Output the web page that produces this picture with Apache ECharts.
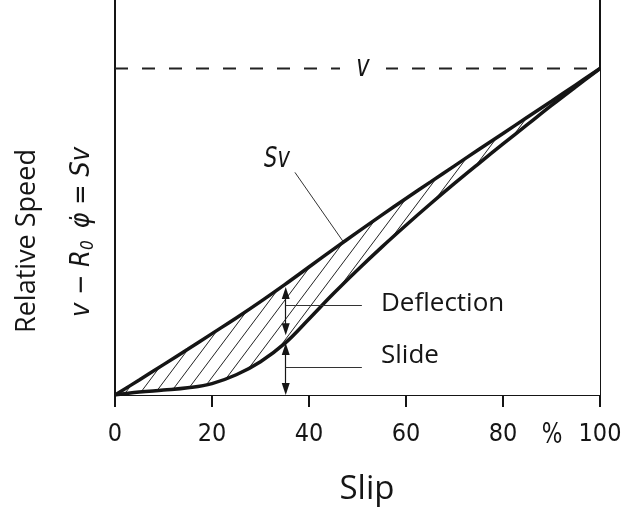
<!DOCTYPE html>
<html>
<head>
<meta charset="utf-8">
<script src="https://cdn.jsdelivr.net/npm/echarts@6/dist/echarts.min.js"></script>
<style>
html, body { margin: 0; padding: 0; background: #fff; }
#chart { width: 627px; height: 509px; }
</style>
</head>
<body>
<div id="chart"></div>
<script>
// slip in %, relative speed in % of v
const slip = [0, 5, 10, 15, 20, 25, 30, 35, 40, 45, 50, 55, 60, 65, 70, 75, 80, 85, 90, 95, 100]
const upperSpeed = [0, 4.6, 9.3, 14, 18.8, 23.6, 28.6, 33.8, 39.2, 44.6, 49.9, 55.1, 60.2, 65.2, 70.2, 75.2, 80.1, 85.1, 90, 95, 100]
const lowerSpeed = [0, 0.9, 1.5, 2.2, 3.5, 6.2, 10.2, 15.8, 23.3, 31.0, 38.3, 45.3, 52.0, 58.5, 64.8, 70.9, 76.9, 82.8, 88.7, 94.4, 100]
const xTicks = [0, 20, 40, 60, 80, 100]
const vLevel = 100
const yMax = 121

// annotations (data coords)
const arrowX = 35.2
const deflectionArrow = [33.1, 18.3]
const slideArrow = [15.9, 0]
const leaderEndX = 50.9
const deflectionLeaderY = 27.5
const slideLeaderY = 8.35
const svLeader = [[37.1, 68.2], [47.0, 47.1]]

const narrow = "'DejaVu Sans Condensed', 'Liberation Sans', sans-serif"
const sans = "'Open Sans', 'Noto Sans', sans-serif"
const ink = '#151515'

function hatch() {
  let c = document.createElement('canvas')
  c.width = 15
  c.height = 20
  let g = c.getContext('2d')
  g.strokeStyle = '#222'
  g.lineWidth = 1
  g.beginPath()
  g.moveTo(0, 20); g.lineTo(15, 0)
  g.moveTo(-15, 20); g.lineTo(0, 0)
  g.moveTo(15, 20); g.lineTo(30, 0)
  g.stroke()
  return c
}

let chart = echarts.init(document.getElementById('chart'))
const gridBottom = 114
const plotH = 509 - gridBottom
const arrowLen = 12
const inset = arrowLen / 2 * yMax / plotH

const arrowStyle = { color: ink, width: 1.2, type: 'solid' }
const thin = { color: '#333', width: 1, type: 'solid' }
const upperData = slip.map((x, i) => [x, upperSpeed[i]])
const lowerData = slip.map((x, i) => [x, lowerSpeed[i]])
const smooth = 0.4

chart.setOption({
  animation: false,
  backgroundColor: '#fff',
  grid: { left: 115, right: 27, top: 0, bottom: gridBottom, outerBoundsMode: 'none', containLabel: false },
  xAxis: {
    type: 'value', min: 0, max: 100, interval: 20,
    axisLine: { show: true, onZero: false, lineStyle: { color: ink, width: 2 } },
    axisTick: { show: true, length: 12, lineStyle: { color: ink, width: 2 } },
    axisLabel: {
      margin: 27, fontFamily: narrow, fontSize: 25, color: ink,
      formatter: v => xTicks.includes(v) ? String(v) : ''
    },
    splitLine: { show: false }
  },
  yAxis: [{
    type: 'value', min: 0, max: yMax, position: 'left',
    axisLine: { show: true, onZero: false, lineStyle: { color: ink, width: 2 } },
    axisTick: { show: false }, axisLabel: { show: false }, splitLine: { show: false }
  }, {
    type: 'value', min: 0, max: yMax, position: 'right',
    axisLine: { show: true, onZero: false, lineStyle: { color: ink, width: 2 } },
    axisTick: { show: false }, axisLabel: { show: false }, splitLine: { show: false }
  }],
  series: [{
    // hatched fill under the Sv line
    name: 'hatch', type: 'line', smooth, showSymbol: false, silent: true, z: 1,
    data: upperData,
    lineStyle: { width: 0, opacity: 0 },
    areaStyle: { color: { image: hatch(), repeat: 'repeat' }, opacity: 1 }
  }, {
    // white fill under the slide curve masks the hatch below it
    name: 'mask', type: 'line', smooth, showSymbol: false, silent: true, z: 2,
    data: lowerData,
    lineStyle: { width: 0, opacity: 0 },
    areaStyle: { color: '#fff', opacity: 1 }
  }, {
    name: 'Sv', type: 'line', smooth, showSymbol: false, silent: true, z: 4,
    data: upperData,
    lineStyle: { color: ink, width: 3.5 }
  }, {
    name: 'lower', type: 'line', smooth, showSymbol: false, silent: true, z: 4,
    data: lowerData,
    lineStyle: { color: ink, width: 3.5 }
  }, {
    name: 'v', type: 'line', showSymbol: false, silent: true, z: 3,
    data: [[0, vLevel], [100, vLevel]],
    lineStyle: { color: '#222', width: 2, type: [13, 14] },
    markLine: {
      silent: true, animation: false,
      label: { show: false },
      emphasis: { disabled: true },
      data: [
        [{ coord: [arrowX, deflectionArrow[0] - inset], symbol: 'triangle', symbolSize: [8, arrowLen], lineStyle: arrowStyle },
         { coord: [arrowX, deflectionArrow[1] + inset], symbol: 'triangle', symbolSize: [8, arrowLen] }],
        [{ coord: [arrowX, slideArrow[0] - inset], symbol: 'triangle', symbolSize: [8, arrowLen], lineStyle: arrowStyle },
         { coord: [arrowX, slideArrow[1] + inset], symbol: 'triangle', symbolSize: [8, arrowLen] }],
        [{ coord: [arrowX, deflectionLeaderY], symbol: 'none', lineStyle: thin },
         { coord: [leaderEndX, deflectionLeaderY], symbol: 'none' }],
        [{ coord: [arrowX, slideLeaderY], symbol: 'none', lineStyle: thin },
         { coord: [leaderEndX, slideLeaderY], symbol: 'none' }],
        [{ coord: svLeader[0], symbol: 'none', lineStyle: thin },
         { coord: svLeader[1], symbol: 'none' }]
      ],
      itemStyle: { color: ink }
    }
  }],
  graphic: [{
    type: 'rect', x: 340, y: 60, z: 10,
    shape: { width: 46, height: 16 }, style: { fill: '#fff' }
  }, {
    type: 'text', x: 363, y: 68, z: 11, scaleX: 0.75,
    style: { text: 'v', fontFamily: "'DejaVu Sans'", fontStyle: 'italic', fontSize: 30, fill: ink,
      align: 'center', verticalAlign: 'middle' }
  }, {
    type: 'text', x: 277, y: 160, z: 11, scaleX: 0.75,
    style: { text: 'Sv', fontFamily: "'DejaVu Sans'", fontStyle: 'italic', fontSize: 28, fill: ink,
      align: 'center', verticalAlign: 'middle' }
  }, {
    type: 'text', x: 381, y: 304, z: 11,
    style: { text: 'Deflection', fontFamily: sans, fontSize: 26, fill: ink,
      align: 'left', verticalAlign: 'middle' }
  }, {
    type: 'text', x: 381, y: 356, z: 11,
    style: { text: 'Slide', fontFamily: sans, fontSize: 26, fill: ink,
      align: 'left', verticalAlign: 'middle' }
  }, {
    type: 'text', x: 552, y: 435, z: 11, scaleX: 0.75,
    style: { text: '%', fontFamily: "'DejaVu Sans'", fontSize: 29, fill: ink,
      align: 'center', verticalAlign: 'middle' }
  }, {
    type: 'text', x: 367, y: 490, z: 11,
    style: { text: 'Slip', fontFamily: sans, fontSize: 33, fill: ink,
      align: 'center', verticalAlign: 'middle' }
  }, {
    type: 'text', x: 27, y: 241, z: 11, rotation: Math.PI / 2,
    style: { text: 'Relative Speed', fontFamily: sans, fontSize: 27, fill: ink,
      align: 'center', verticalAlign: 'middle' }
  }, {
    type: 'text', x: 82, y: 232, z: 11, rotation: Math.PI / 2,
    style: {
      text: '{i|v − R}{s|0}{i| φ̇ = Sv}',
      align: 'center', verticalAlign: 'middle',
      rich: {
        i: { fontFamily: narrow, fontStyle: 'italic', fontSize: 27, fill: ink },
        s: { fontFamily: narrow, fontStyle: 'italic', fontSize: 17, fill: ink, padding: [14, 4, 0, 0] }
      }
    }
  }]
})
</script>
</body>
</html>
